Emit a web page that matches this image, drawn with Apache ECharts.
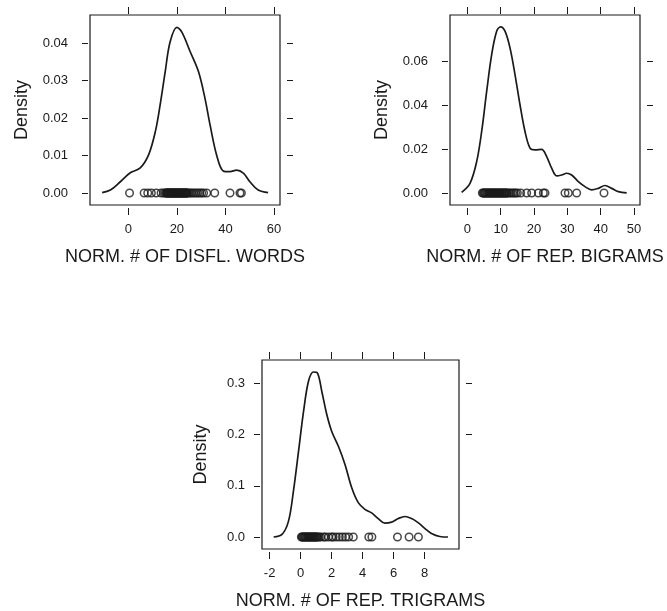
<!DOCTYPE html>
<html>
<head>
<meta charset="utf-8">
<script src="https://cdn.jsdelivr.net/npm/echarts@6/dist/echarts.min.js"></script>
<style>
html,body{margin:0;padding:0;background:#fff;}
#chart{width:667px;height:611px;}
</style>
</head>
<body>
<div id="chart"></div>
<script>
// Panel 1: NORM. # OF DISFL. WORDS
const disflX = [-10.8, -7.4, -3.3, 0.8, 4.9, 8.3, 11.1, 13.1, 15.2, 17.2, 20.0, 22.0, 25.5, 28.9, 31.6, 33.7, 36.4, 39.1, 41.9, 44.6, 47.4, 50.1, 53.5, 57.6];
const disflY = [0.0001, 0.0008, 0.0030, 0.0054, 0.0067, 0.0101, 0.0163, 0.0235, 0.0324, 0.0403, 0.0442, 0.0430, 0.0377, 0.0324, 0.0252, 0.0181, 0.0101, 0.0059, 0.0057, 0.0061, 0.0053, 0.0030, 0.0008, 0.0001];
const disflRug = [0.5, 6.5, 8, 9.5, 11.5, 13.5, 14.5, 15.2, 15.6, 15.8, 16.1, 16.3, 16.6, 16.8, 17.1, 17.3, 17.6, 17.8, 18.1, 18.3, 18.6, 18.8, 19.1, 19.3, 19.6, 19.8, 20.1, 20.3, 20.6, 20.8, 21.1, 21.3, 21.6, 21.8, 22.1, 22.3, 22.6, 22.8, 23.1, 23.3, 23.6, 23.8, 24.1, 24.3, 24.8, 25.5, 26.2, 27, 27.8, 28.6, 29.4, 30.2, 31, 32.3, 35.6, 41.9, 46, 46.6];
const disflXTicks = [0, 20, 40, 60];
const disflYTicks = [0, 0.01, 0.02, 0.03, 0.04];

// Panel 2: NORM. # OF REP. BIGRAMS
const bigrX = [-1.7, 0.8, 2.8, 4.3, 5.8, 7.3, 8.8, 10.0, 11.3, 12.8, 14.3, 15.8, 17.3, 18.8, 20.3, 22.3, 23.8, 25.3, 26.8, 28.3, 29.8, 31.3, 33.3, 35.3, 37.3, 39.3, 41.3, 43.3, 45.3, 47.8];
const bigrY = [0.0003, 0.0044, 0.0143, 0.0281, 0.0464, 0.0632, 0.0739, 0.0759, 0.0739, 0.0663, 0.0541, 0.0403, 0.0281, 0.0205, 0.0197, 0.0199, 0.0166, 0.0113, 0.0078, 0.0082, 0.0090, 0.0082, 0.0052, 0.0029, 0.0014, 0.0021, 0.0034, 0.0021, 0.0006, 0.0000];
const bigrRug = [4.5, 4.8, 5, 5.3, 5.5, 5.8, 6, 6.3, 6.5, 6.8, 7, 7.3, 7.5, 7.8, 8, 8.3, 8.5, 8.8, 9, 9.3, 9.5, 9.8, 10, 10.3, 10.5, 10.8, 11, 11.3, 11.5, 11.8, 12, 12.5, 13, 13.5, 14, 14.5, 15, 16, 17.8, 19.3, 21.3, 22.8, 23.3, 29.3, 30.3, 32.8, 41];
const bigrXTicks = [0, 10, 20, 30, 40, 50];
const bigrYTicks = [0, 0.02, 0.04, 0.06];

// Panel 3: NORM. # OF REP. TRIGRAMS
const trigX = [-1.74, -1.2, -0.78, -0.46, -0.13, 0.19, 0.51, 0.83, 1.09, 1.37, 1.69, 2.01, 2.44, 2.87, 3.30, 3.72, 4.15, 4.58, 5.01, 5.44, 5.87, 6.30, 6.73, 7.16, 7.58, 8.01, 8.44, 8.98, 9.51];
const trigY = [0.000, 0.005, 0.031, 0.090, 0.168, 0.245, 0.304, 0.322, 0.320, 0.284, 0.239, 0.206, 0.177, 0.141, 0.096, 0.067, 0.054, 0.047, 0.036, 0.027, 0.029, 0.036, 0.040, 0.036, 0.028, 0.017, 0.007, 0.001, 0.000];
const trigRug = [0.05, 0.1, 0.15, 0.2, 0.25, 0.3, 0.35, 0.4, 0.45, 0.5, 0.55, 0.6, 0.65, 0.7, 0.75, 0.8, 0.85, 0.9, 0.95, 1.0, 1.05, 1.1, 1.2, 1.3, 1.5, 1.6, 1.8, 2.0, 2.1, 2.3, 2.5, 2.7, 2.9, 3.1, 3.4, 4.4, 4.6, 6.25, 7.0, 7.6];
const trigXTicks = [-2, 0, 2, 4, 6, 8];
const trigYTicks = [0, 0.1, 0.2, 0.3];

const xTitles = ['NORM. # OF DISFL. WORDS', 'NORM. # OF REP. BIGRAMS', 'NORM. # OF REP. TRIGRAMS'];
const yTitle = 'Density';

const FONT = '"Liberation Sans", Arial, sans-serif';
const INK = '#1a1a1a';

const panels = [
  {grid:{left:90, top:15, width:190, height:190}, x:disflX, y:disflY, rug:disflRug, xt:disflXTicks, yt:disflYTicks,
   xmin:-15.8, xmax:62.5, ymin:-0.0032, ymax:0.0475, yfmt:v=>v.toFixed(2), xname:xTitles[0], ylm:20, ygap:57},
  {grid:{left:450, top:15, width:190, height:190}, x:bigrX, y:bigrY, rug:bigrRug, xt:bigrXTicks, yt:bigrYTicks,
   xmin:-5.2, xmax:51.8, ymin:-0.0055, ymax:0.0813, yfmt:v=>v.toFixed(2), xname:xTitles[1], ylm:20, ygap:57},
  {grid:{left:262, top:360, width:197, height:189}, x:trigX, y:trigY, rug:trigRug, xt:trigXTicks, yt:trigYTicks,
   xmin:-2.49, xmax:10.22, ymin:-0.0234, ymax:0.3454, yfmt:v=>v.toFixed(1), xname:xTitles[2], ylm:15, ygap:50}
];

const grids = [], xAxes = [], yAxes = [], series = [];
panels.forEach((p, i) => {
  grids.push(Object.assign({show:true, borderColor:INK, borderWidth:1.2, backgroundColor:'transparent', containLabel:false}, p.grid));
  const xi = xAxes.length;
  const baseX = {type:'value', gridIndex:i, min:p.xmin, max:p.xmax, splitLine:{show:false}, axisLine:{show:false, onZero:false}};
  xAxes.push(Object.assign({}, baseX, {
    position:'bottom', offset:3,
    axisTick:{show:true, inside:false, length:7, lineStyle:{color:INK}, customValues:p.xt},
    axisLabel:{show:true, margin:15, color:INK, fontSize:13, fontFamily:FONT, customValues:p.xt},
    name:p.xname, nameLocation:'middle', nameGap:40,
    nameTextStyle:{color:INK, fontSize:18, fontFamily:FONT}
  }));
  xAxes.push(Object.assign({}, baseX, {
    position:'top', offset:1,
    axisTick:{show:true, inside:false, length:7, lineStyle:{color:INK}, customValues:p.xt},
    axisLabel:{show:false}
  }));
  const yi = yAxes.length;
  const baseY = {type:'value', gridIndex:i, min:p.ymin, max:p.ymax, splitLine:{show:false}, axisLine:{show:false, onZero:false}};
  yAxes.push(Object.assign({}, baseY, {
    position:'left', offset:2,
    axisTick:{show:true, inside:false, length:6, lineStyle:{color:INK}, customValues:p.yt},
    axisLabel:{show:true, margin:p.ylm, color:INK, fontSize:13, fontFamily:FONT, customValues:p.yt, formatter:p.yfmt},
    name:yTitle, nameLocation:'middle', nameGap:p.ygap, nameRotate:90,
    nameTextStyle:{color:INK, fontSize:18, fontFamily:FONT}
  }));
  yAxes.push(Object.assign({}, baseY, {
    position:'right', offset:7,
    axisTick:{show:true, inside:false, length:6, lineStyle:{color:INK}, customValues:p.yt},
    axisLabel:{show:false}
  }));
  series.push({
    type:'line', xAxisIndex:xi, yAxisIndex:yi, smooth:0.35, showSymbol:false, symbol:'none',
    lineStyle:{color:INK, width:1.7}, silent:true, animation:false,
    data:p.x.map((v, k) => [v, p.y[k]])
  });
  series.push({
    type:'scatter', xAxisIndex:xi, yAxisIndex:yi, symbol:'circle', symbolSize:7.5,
    itemStyle:{color:'rgba(0,0,0,0)', borderColor:INK, borderWidth:1.5}, silent:true, animation:false,
    data:p.rug.map(v => [v, 0])
  });
});

const chart = echarts.init(document.getElementById('chart'), null, {renderer:'canvas'});
chart.setOption({
  backgroundColor:'#fff',
  animation:false,
  grid:grids,
  xAxis:xAxes,
  yAxis:yAxes,
  series:series
});
</script>
</body>
</html>
